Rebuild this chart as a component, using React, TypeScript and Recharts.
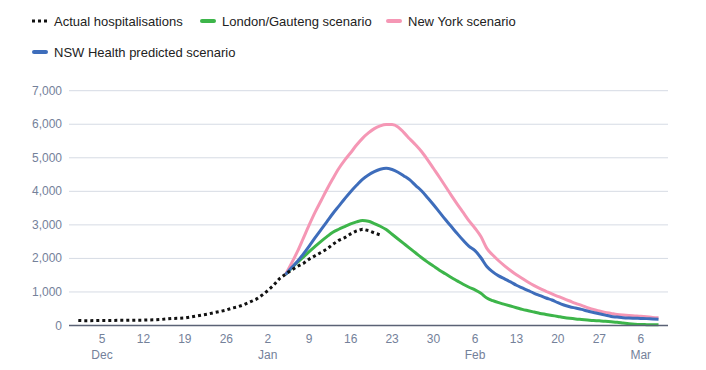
import React from "react";
import { LineChart, Line, XAxis, YAxis, CartesianGrid } from "recharts";

// day index: 0 = 1 Dec 2021
const actualStartDay = 0;
const actualValues = [
  150, 145, 145, 148, 150, 150, 152, 155, 155, 158, 160, 160, 165, 170, 180, 195,
  210, 215, 225, 255, 285, 315, 345, 385, 420, 460, 520, 560, 620, 700, 780, 900,
  1040, 1200, 1400, 1530, 1650, 1760, 1850, 1980, 2080, 2180, 2280, 2420, 2540,
  2620, 2730, 2820, 2870, 2830, 2760, 2700,
];

const scenarioStartDay = 35;
const londonValues = [
  1520, 1710, 1880, 2040, 2200, 2360, 2510, 2650, 2780, 2870, 2950, 3030, 3090, 3130,
  3110, 3040, 2960, 2860, 2720, 2580, 2440, 2300, 2160, 2020, 1890, 1770, 1650, 1540,
  1430, 1330, 1230, 1140, 1060, 960, 820, 740, 680, 630, 580, 530, 480, 440, 400, 360,
  330, 300, 270, 240, 215, 195, 180, 165, 150, 140, 125, 110, 95, 75, 55, 40, 30, 25,
  20, 20,
];
const newYorkValues = [
  1520, 1850, 2200, 2600, 3000, 3380, 3720, 4060, 4380, 4680, 4930, 5150, 5380, 5580,
  5740, 5870, 5950, 5990, 5990, 5920, 5750, 5560, 5380, 5180, 4940, 4680, 4420, 4150,
  3880, 3620, 3370, 3120, 2900, 2650, 2300, 2100, 1930, 1780, 1640, 1510, 1400, 1290,
  1190, 1100, 1020, 940, 870, 800, 730, 660, 600, 530, 480, 430, 390, 360, 330, 310,
  295, 285, 275, 260, 240, 230,
];
const nswValues = [
  1520, 1720, 1910, 2130, 2370, 2620, 2860, 3100, 3340, 3560, 3780, 3990, 4180, 4360,
  4490, 4590, 4660, 4690, 4650, 4570, 4460, 4340, 4170, 4010, 3810, 3600, 3380, 3160,
  2950, 2740, 2540, 2360, 2230, 2020, 1760, 1600, 1480, 1390, 1300, 1200, 1120, 1040,
  960, 890, 820, 760, 680, 610, 560, 520, 480, 430, 390, 350, 310, 270, 250, 230, 220,
  215, 210, 205, 195, 190,
];

const xTicks = [4, 11, 18, 25, 32, 39, 46, 53, 60, 67, 74, 81, 88, 95];
const xTickLabels = ["5", "12", "19", "26", "2", "9", "16", "23", "30", "6", "13", "20", "27", "6"];
const xMonthLabels = ["Dec", "", "", "", "Jan", "", "", "", "", "Feb", "", "", "", "Mar"];
const yTicks = [0, 1000, 2000, 3000, 4000, 5000, 6000, 7000];

const seriesNames = {
  actual: "Actual hospitalisations",
  london: "London/Gauteng scenario",
  newYork: "New York scenario",
  nsw: "NSW Health predicted scenario",
};

const COLORS = {
  actual: "#111111",
  london: "#3DB54A",
  newYork: "#F597B5",
  nsw: "#3E6DBB",
};

const FONT = '"Liberation Sans", Arial, sans-serif';
const TICK_COLOR = "#74819a";

type Row = { day: number; actual?: number; london?: number; newYork?: number; nsw?: number };

const buildData = (): Row[] => {
  const rows: Row[] = [];
  const lastDay = scenarioStartDay + nswValues.length - 1;
  for (let d = 0; d <= lastDay; d++) {
    const r: Row = { day: d };
    const ai = d - actualStartDay;
    if (ai >= 0 && ai < actualValues.length) r.actual = actualValues[ai];
    const si = d - scenarioStartDay;
    if (si >= 0) {
      r.london = londonValues[si];
      r.newYork = newYorkValues[si];
      r.nsw = nswValues[si];
    }
    rows.push(r);
  }
  return rows;
};

const data = buildData();

const XTick = (props: any) => {
  const { x, y, payload } = props;
  const idx = xTicks.indexOf(payload.value);
  return (
    <g>
      <text x={x} y={y + 17} textAnchor="middle" fontSize={12} fill={TICK_COLOR} fontFamily={FONT}>
        {xTickLabels[idx]}
      </text>
      {xMonthLabels[idx] ? (
        <text x={x} y={y + 33} textAnchor="middle" fontSize={12} fill={TICK_COLOR} fontFamily={FONT}>
          {xMonthLabels[idx]}
        </text>
      ) : null}
    </g>
  );
};

const YTick = (props: any) => {
  const { y, payload } = props;
  return (
    <text x={62} y={y + 4} textAnchor="end" fontSize={12} fill={TICK_COLOR} fontFamily={FONT}>
      {payload.value.toLocaleString("en-US")}
    </text>
  );
};

const LegendItem = ({ left, top, kind, color, label }: any) => (
  <div style={{ position: "absolute", left, top, height: 16, display: "flex", alignItems: "center" }}>
    {kind === "dots" ? (
      <svg width={16} height={6} style={{ marginRight: 6 }}>
        <rect x={0} y={1.5} width={3} height={3} fill={color} />
        <rect x={6} y={1.5} width={3} height={3} fill={color} />
        <rect x={12} y={1.5} width={3} height={3} fill={color} />
      </svg>
    ) : (
      <svg width={16} height={6} style={{ marginRight: 6 }}>
        <line x1={2} y1={3} x2={14} y2={3} stroke={color} strokeWidth={4} strokeLinecap="round" />
      </svg>
    )}
    <span style={{ fontFamily: FONT, fontSize: 13, color: "#222", whiteSpace: "nowrap" }}>{label}</span>
  </div>
);

export default function App() {
  return (
    <div style={{ position: "relative", width: 706, height: 370, background: "#fff" }}>
      <style>{"body{margin:0;background:#fff}"}</style>
      <LegendItem left={32} top={13} kind="dots" color={COLORS.actual} label={seriesNames.actual} />
      <LegendItem left={200} top={13} kind="line" color={COLORS.london} label={seriesNames.london} />
      <LegendItem left={386} top={13} kind="line" color={COLORS.newYork} label={seriesNames.newYork} />
      <LegendItem left={32} top={44} kind="line" color={COLORS.nsw} label={seriesNames.nsw} />
      <div style={{ position: "absolute", left: 0, top: 0 }}>
        <LineChart
          width={706}
          height={370}
          data={data}
          margin={{ top: 90.7, right: 38, bottom: 4.5, left: 0 }}
        >
          <CartesianGrid horizontal vertical={false} stroke="#d6dbe4" strokeWidth={1} />
          <XAxis
            dataKey="day"
            type="number"
            domain={[-1.57, 99.6]}
            allowDataOverflow
            ticks={xTicks}
            interval={0}
            height={40}
            tickLine={false}
            tickSize={0}
            tickMargin={0}
            axisLine={{ stroke: "#5a6275", strokeWidth: 1.5 }}
            tick={<XTick />}
          />
          <YAxis
            type="number"
            domain={[0, 7000]}
            ticks={yTicks}
            interval={0}
            width={69}
            axisLine={false}
            tickLine={false}
            tick={<YTick />}
          />
          <Line
            dataKey="london"
            stroke={COLORS.london}
            strokeWidth={3}
            dot={false}
            type="monotone"
            isAnimationActive={false}
          />
          <Line
            dataKey="newYork"
            stroke={COLORS.newYork}
            strokeWidth={3}
            dot={false}
            type="monotone"
            isAnimationActive={false}
          />
          <Line
            dataKey="nsw"
            stroke={COLORS.nsw}
            strokeWidth={3}
            dot={false}
            type="monotone"
            isAnimationActive={false}
          />
          <Line
            dataKey="actual"
            stroke={COLORS.actual}
            strokeWidth={3}
            strokeDasharray="3 3"
            dot={false}
            type="linear"
            isAnimationActive={false}
          />
        </LineChart>
      </div>
    </div>
  );
}
